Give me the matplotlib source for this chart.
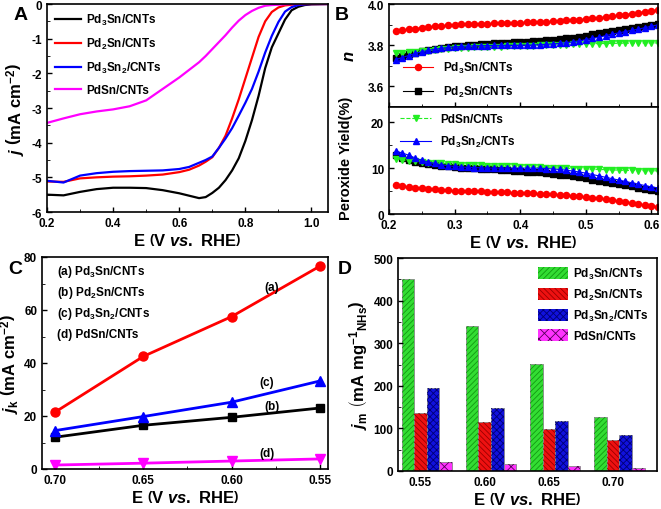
import matplotlib
matplotlib.use("Agg")
import matplotlib.pyplot as plt
from matplotlib.ticker import MultipleLocator
from matplotlib.patches import Patch
import numpy as np

plt.rcParams["font.family"] = "Liberation Sans"
plt.rcParams["font.weight"] = "bold"
plt.rcParams["axes.labelweight"] = "bold"
plt.rcParams["mathtext.fontset"] = "custom"
plt.rcParams["mathtext.rm"] = "Liberation Sans:bold"
plt.rcParams["mathtext.bf"] = "Liberation Sans:bold"
plt.rcParams["mathtext.it"] = "Liberation Sans:italic:bold"
plt.rcParams["mathtext.default"] = "bf"
plt.rcParams["axes.linewidth"] = 1.2
plt.rcParams["xtick.direction"] = "in"
plt.rcParams["ytick.direction"] = "in"
plt.rcParams["xtick.major.size"] = 3.5
plt.rcParams["ytick.major.size"] = 3.5
plt.rcParams["xtick.minor.size"] = 2
plt.rcParams["ytick.minor.size"] = 2
plt.rcParams["xtick.major.width"] = 1.0
plt.rcParams["ytick.major.width"] = 1.0
plt.rcParams["xtick.labelsize"] = 8.5
plt.rcParams["ytick.labelsize"] = 8.5
plt.rcParams["hatch.linewidth"] = 0.6

# ---------------- data ----------------
# (A) polarization curves
E_lsv = [0.20, 0.25, 0.30, 0.35, 0.40, 0.45, 0.50, 0.55, 0.60, 0.63, 0.66, 0.68,
         0.70, 0.72, 0.74, 0.76, 0.78, 0.80, 0.82, 0.84, 0.86, 0.88, 0.90, 0.92,
         0.94, 0.96, 0.98, 1.00, 1.05]
j_pd3sn = [-5.50, -5.52, -5.42, -5.34, -5.30, -5.30, -5.31, -5.37, -5.46, -5.53, -5.60, -5.57,
           -5.45, -5.30, -5.08, -4.80, -4.45, -3.95, -3.35, -2.65, -1.85, -1.25, -0.85, -0.45,
           -0.18, -0.08, -0.03, -0.01, 0.0]
j_pd2sn = [-5.12, -5.13, -5.03, -5.00, -4.98, -4.97, -4.95, -4.92, -4.85, -4.78, -4.66, -4.55,
           -4.42, -4.15, -3.80, -3.30, -2.75, -2.15, -1.55, -0.95, -0.50, -0.23, -0.10, -0.04,
           -0.02, -0.01, 0.0, 0.0, 0.0]
j_pd3sn2 = [-5.10, -5.15, -4.95, -4.88, -4.84, -4.82, -4.81, -4.80, -4.76, -4.70, -4.58, -4.50,
            -4.40, -4.15, -3.88, -3.58, -3.22, -2.85, -2.45, -1.95, -1.40, -0.92, -0.52, -0.22,
            -0.09, -0.03, -0.01, 0.0, 0.0]
j_pdsn = [-3.43, -3.30, -3.18, -3.10, -3.04, -2.95, -2.78, -2.45, -2.12, -1.90, -1.68, -1.50,
          -1.30, -1.10, -0.90, -0.68, -0.48, -0.32, -0.20, -0.11, -0.05, -0.03, -0.02, -0.01,
          0.0, 0.0, 0.0, 0.0, 0.0]

# (B) electron transfer number and peroxide yield
E_rrde = [0.21, 0.22, 0.23, 0.24, 0.25, 0.26, 0.27, 0.28, 0.29, 0.30, 0.31, 0.32, 0.33, 0.34,
          0.35, 0.36, 0.37, 0.38, 0.39, 0.40, 0.41, 0.42, 0.43, 0.44, 0.45, 0.46, 0.47, 0.48,
          0.49, 0.50, 0.51, 0.52, 0.53, 0.54, 0.55, 0.56, 0.57, 0.58, 0.59, 0.60, 0.61]
n_pd3sn = [3.870, 3.873, 3.877, 3.881, 3.885, 3.888, 3.891, 3.894, 3.897, 3.899, 3.901, 3.902,
           3.903, 3.904, 3.905, 3.906, 3.907, 3.908, 3.909, 3.910, 3.911, 3.912, 3.913, 3.914,
           3.916, 3.918, 3.920, 3.922, 3.924, 3.927, 3.930, 3.933, 3.937, 3.941, 3.945, 3.949,
           3.953, 3.958, 3.963, 3.968, 3.972]
n_pd2sn = [3.740, 3.748, 3.756, 3.764, 3.771, 3.777, 3.782, 3.787, 3.791, 3.795, 3.798, 3.801,
           3.803, 3.805, 3.807, 3.809, 3.811, 3.812, 3.814, 3.815, 3.817, 3.819, 3.821, 3.823,
           3.826, 3.829, 3.833, 3.837, 3.842, 3.847, 3.852, 3.857, 3.862, 3.867, 3.872, 3.877,
           3.882, 3.887, 3.892, 3.897, 3.902]
n_pdsn = [3.760, 3.762, 3.765, 3.768, 3.771, 3.774, 3.777, 3.780, 3.782, 3.784, 3.786, 3.788,
          3.789, 3.790, 3.791, 3.792, 3.793, 3.794, 3.795, 3.796, 3.797, 3.798, 3.799, 3.800,
          3.801, 3.802, 3.803, 3.804, 3.805, 3.806, 3.807, 3.808, 3.808, 3.809, 3.809, 3.810,
          3.810, 3.810, 3.811, 3.811, 3.811]
n_pd3sn2 = [3.730, 3.740, 3.750, 3.760, 3.768, 3.775, 3.780, 3.785, 3.789, 3.792, 3.794, 3.796,
            3.797, 3.798, 3.798, 3.799, 3.799, 3.799, 3.799, 3.800, 3.800, 3.801, 3.802, 3.804,
            3.806, 3.809, 3.812, 3.816, 3.821, 3.827, 3.833, 3.839, 3.846, 3.853, 3.860, 3.866,
            3.872, 3.878, 3.885, 3.892, 3.899]
h2o2_pd3sn = [6.3, 6.1, 5.9, 5.75, 5.6, 5.5, 5.4, 5.3, 5.2, 5.1, 5.05, 5.0, 4.95, 4.9,
              4.85, 4.8, 4.75, 4.7, 4.65, 4.6, 4.55, 4.5, 4.45, 4.4, 4.3, 4.2, 4.1, 4.0,
              3.85, 3.7, 3.55, 3.4, 3.2, 3.0, 2.8, 2.6, 2.4, 2.2, 2.0, 1.8, 1.6]
h2o2_pd2sn = [12.8, 12.3, 11.8, 11.4, 11.1, 10.9, 10.7, 10.5, 10.35, 10.2, 10.1, 10.0, 9.95, 9.85,
              9.8, 9.7, 9.65, 9.55, 9.45, 9.35, 9.25, 9.15, 9.05, 8.9, 8.75, 8.6, 8.4, 8.2,
              8.0, 7.75, 7.5, 7.25, 7.0, 6.75, 6.5, 6.25, 6.0, 5.75, 5.5, 5.25, 5.05]
h2o2_pdsn = [12.0, 11.8, 11.6, 11.45, 11.3, 11.2, 11.1, 11.0, 10.9, 10.8, 10.75, 10.7, 10.65, 10.6,
             10.55, 10.5, 10.45, 10.4, 10.35, 10.3, 10.25, 10.2, 10.15, 10.1, 10.05, 10.0, 9.95, 9.9,
             9.85, 9.8, 9.75, 9.7, 9.65, 9.6, 9.55, 9.5, 9.5, 9.45, 9.45, 9.4, 9.4]
h2o2_pd3sn2 = [13.7, 13.3, 12.8, 12.2, 11.7, 11.3, 11.0, 10.7, 10.5, 10.35, 10.25, 10.15, 10.1, 10.05,
               10.0, 10.0, 10.0, 10.0, 10.0, 10.0, 10.0, 10.0, 9.95, 9.9, 9.8, 9.7, 9.55, 9.35,
               9.15, 8.9, 8.6, 8.3, 8.0, 7.7, 7.4, 7.1, 6.8, 6.5, 6.2, 5.9, 5.7]

# (C) kinetic current density
E_k = [0.70, 0.65, 0.60, 0.55]
jk_a = [21.5, 42.5, 57.5, 76.5]
jk_b = [12.0, 16.5, 19.5, 23.0]
jk_c = [14.5, 19.8, 25.2, 33.2]
jk_d = [1.5, 2.2, 3.0, 3.8]

# (D) mass activity
E_cat = ["0.55", "0.60", "0.65", "0.70"]
jm_pd3sn = [450, 340, 252, 127]
jm_pd2sn = [136, 115, 98, 72]
jm_pd3sn2 = [196, 148, 117, 84]
jm_pdsn = [22, 17, 12, 8]

lab_pd3sn = "Pd$_3$Sn/CNTs"
lab_pd2sn = "Pd$_2$Sn/CNTs"
lab_pd3sn2 = "Pd$_3$Sn$_2$/CNTs"
lab_pdsn = "PdSn/CNTs"

xlab = r"$\mathrm{E}\ \left(\mathrm{V}\ \mathit{vs.}\ \mathrm{RHE}\right)$"
labfs = 12

fig = plt.figure(figsize=(6.61, 5.10), dpi=100)
W, H = 661.0, 510.0


def box(l, t, r, b):
    return [l / W, 1 - b / H, (r - l) / W, (b - t) / H]


axA = fig.add_axes(box(47, 5, 328, 213))
axB1 = fig.add_axes(box(389, 5, 658, 108))
axB2 = fig.add_axes(box(389, 108, 658, 215))
axC = fig.add_axes(box(42, 258, 328, 470))
axD = fig.add_axes(box(398, 259, 657, 472))

# ---------------- A ----------------
axA.plot(E_lsv, j_pd3sn, color="black", lw=1.6, label=lab_pd3sn)
axA.plot(E_lsv, j_pd2sn, color="#ff0000", lw=1.6, label=lab_pd2sn)
axA.plot(E_lsv, j_pd3sn2, color="#0000ff", lw=1.6, label=lab_pd3sn2)
axA.plot(E_lsv, j_pdsn, color="#ff00ff", lw=1.6, label=lab_pdsn)
axA.set_xlim(0.2, 1.05)
axA.set_ylim(-6, 0)
axA.xaxis.set_major_locator(MultipleLocator(0.2))
axA.xaxis.set_minor_locator(MultipleLocator(0.1))
axA.yaxis.set_major_locator(MultipleLocator(1))
axA.yaxis.set_minor_locator(MultipleLocator(0.5))
axA.set_yticks(axA.get_yticks())
axA.set_yticklabels(["%d" % v for v in axA.get_yticks()])
axA.set_ylim(-6, 0)
axA.set_xlabel(xlab, fontsize=labfs, labelpad=2)
axA.set_ylabel(r"$\mathit{j}\ \left(\mathrm{mA\ cm}^{-2}\right)$", fontsize=labfs, labelpad=3)
axA.legend(loc="upper left", frameon=False, fontsize=8.5, handlelength=2.2,
           labelspacing=0.75, borderaxespad=0.3, handletextpad=0.4)

# ---------------- B ----------------
mk = 3.8
axB1.plot(E_rrde, n_pd2sn, color="black", marker="s", ms=mk, lw=0.8, mec="black", label=lab_pd2sn)
axB1.plot(E_rrde, n_pd3sn, color="#ff0000", marker="o", ms=mk + 0.6, lw=0.8, label=lab_pd3sn)
axB1.plot(E_rrde, n_pdsn, color="#22ee22", marker="v", ms=mk + 0.8, lw=0.8, ls="--")
axB1.plot(E_rrde, n_pd3sn2, color="#0000ff", marker="^", ms=mk + 0.8, lw=0.8)
axB1.set_xlim(0.2, 0.61)
axB1.set_ylim(3.5, 4.0)
axB1.yaxis.set_major_locator(MultipleLocator(0.2))
axB1.yaxis.set_minor_locator(MultipleLocator(0.1))
axB1.xaxis.set_major_locator(MultipleLocator(0.1))
axB1.xaxis.set_minor_locator(MultipleLocator(0.05))
axB1.tick_params(labelbottom=False)
axB1.set_ylabel(r"$\mathit{n}$", fontsize=labfs, labelpad=8)
h1, l1 = axB1.get_legend_handles_labels()
axB1.legend([h1[1], h1[0]], [l1[1], l1[0]], loc="lower left", frameon=False, fontsize=8.5,
            handlelength=2.6, labelspacing=0.75, borderaxespad=0.3, bbox_to_anchor=(0.02, 0.0))

axB2.plot(E_rrde, h2o2_pd2sn, color="black", marker="s", ms=mk, lw=0.8)
axB2.plot(E_rrde, h2o2_pd3sn, color="#ff0000", marker="o", ms=mk + 0.6, lw=0.8)
axB2.plot(E_rrde, h2o2_pdsn, color="#22ee22", marker="v", ms=mk + 0.8, lw=0.8, ls="--", label=lab_pdsn)
axB2.plot(E_rrde, h2o2_pd3sn2, color="#0000ff", marker="^", ms=mk + 0.8, lw=0.8, label=lab_pd3sn2)
axB2.set_xlim(0.2, 0.61)
axB2.set_ylim(0, 23.3)
axB2.yaxis.set_major_locator(MultipleLocator(10))
axB2.yaxis.set_minor_locator(MultipleLocator(5))
axB2.xaxis.set_major_locator(MultipleLocator(0.1))
axB2.xaxis.set_minor_locator(MultipleLocator(0.05))
axB2.set_xlabel(xlab, fontsize=labfs, labelpad=2)
axB2.set_ylabel("Peroxide Yield(%)", fontsize=10.5, labelpad=5)
axB2.yaxis.set_label_coords(-0.135, 0.53)
axB2.legend(loc="upper left", frameon=False, fontsize=8.5, handlelength=2.6,
            labelspacing=0.75, borderaxespad=0.1, bbox_to_anchor=(0.02, 1.0))

# ---------------- C ----------------
axC.plot(E_k, jk_a, color="#ff0000", lw=2, marker="o", ms=6.5)
axC.plot(E_k, jk_b, color="black", lw=2, marker="s", ms=5.5)
axC.plot(E_k, jk_c, color="#0000ff", lw=2, marker="^", ms=6.5)
axC.plot(E_k, jk_d, color="#ff00ff", lw=2, marker="v", ms=6.5)
axC.set_xlim(0.7075, 0.5453)
axC.set_ylim(0, 80)
axC.xaxis.set_minor_locator(MultipleLocator(0.025))
axC.yaxis.set_major_locator(MultipleLocator(20))
axC.yaxis.set_minor_locator(MultipleLocator(10))
axC.set_xticks(E_k)
axC.set_xticklabels(["%.2f" % v for v in E_k])
axC.set_xlabel(xlab, fontsize=labfs, labelpad=2)
axC.set_ylabel(r"$\mathit{j}_\mathrm{k}\ \left(\mathrm{mA\ cm}^{-2}\right)$", fontsize=labfs, labelpad=2)
c_names = ["(a) " + lab_pd3sn, "(b) " + lab_pd2sn, "(c) " + lab_pd3sn2, "(d) " + lab_pdsn]
for i, s in enumerate(c_names):
    axC.text(0.052, 0.935 - i * 0.099, s, transform=axC.transAxes, fontsize=8.5, va="center")
axC.text(0.577, 68.7, "(a)", fontsize=8.5, ha="center", va="center")
axC.text(0.580, 32.8, "(c)", fontsize=8.5, ha="center", va="center")
axC.text(0.577, 23.9, "(b)", fontsize=8.5, ha="center", va="center")
axC.text(0.580, 6.0, "(d)", fontsize=8.5, ha="center", va="center")

# ---------------- D ----------------
x = np.arange(len(E_cat))
bw = 0.196
series = [
    (jm_pd3sn, "#33dd33", "#119911", "//////", lab_pd3sn),
    (jm_pd2sn, "#ee1111", "#990000", "\\\\\\\\\\\\", lab_pd2sn),
    (jm_pd3sn2, "#1111dd", "#000077", "xxxxx", lab_pd3sn2),
    (jm_pdsn, "#ff33ff", "#550055", "xxx", lab_pdsn),
]
handles = []
for k, (vals, fc, hc, ht, lab) in enumerate(series):
    off = (k - 1.5) * bw
    axD.bar(x + off, vals, bw, color=fc, edgecolor="#888888", linewidth=0.6)
    axD.bar(x + off, vals, bw, color="none", edgecolor=hc, hatch=ht, linewidth=0)
    handles.append(Patch(facecolor=fc, edgecolor=hc, hatch=ht, linewidth=0, label=lab))
axD.set_xlim(-0.449, 3.586)
axD.set_ylim(0, 500)
axD.set_xticks(x - 0.1)
axD.set_xticklabels(E_cat)
axD.yaxis.set_major_locator(MultipleLocator(100))
axD.yaxis.set_minor_locator(MultipleLocator(50))
axD.tick_params(axis="x", length=0)
axD.set_xlabel(xlab, fontsize=labfs, labelpad=2)
axD.set_ylabel(r"$\mathit{j}_\mathrm{m}\ \left(\mathrm{mA\ mg}^{-1}\right.$$_{\mathrm{NHs}}$$\left.\right)$",
               fontsize=labfs, labelpad=2)
axD.legend(handles=handles, loc="upper right", frameon=False, fontsize=8.5,
           handlelength=2.6, handleheight=1.2, labelspacing=0.5, borderaxespad=0.3,
           handletextpad=0.4)

# panel letters
for s, px, py in [("A", 21, 15), ("B", 342, 15), ("C", 15, 270), ("D", 345, 270)]:
    fig.text(px / W, 1 - py / H, s, fontsize=14, ha="center", va="center")

fig.savefig("out.png", dpi=100)
